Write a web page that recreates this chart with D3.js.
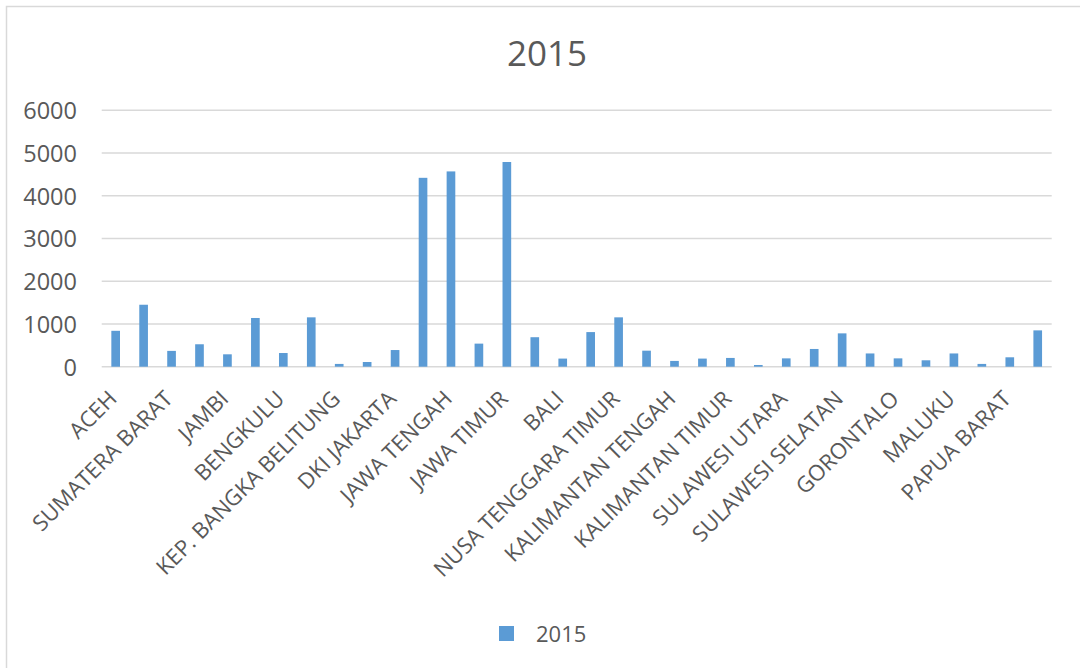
<!DOCTYPE html>
<html><head><meta charset="utf-8">
<script src="https://cdn.jsdelivr.net/npm/d3@7"></script>
<style>
html,body{margin:0;padding:0;background:#fff;}
svg{display:block;font-family:"Open Sans","Noto Sans",sans-serif;}
</style></head>
<body><svg id="chart" width="1080" height="668"></svg>
<script>
const categories = ["ACEH","SUMATERA UTARA","SUMATERA BARAT","RIAU","JAMBI","SUMATERA SELATAN","BENGKULU","LAMPUNG","KEP. BANGKA BELITUNG","KEP. RIAU","DKI JAKARTA","JAWA BARAT","JAWA TENGAH","DI YOGYAKARTA","JAWA TIMUR","BANTEN","BALI","NUSA TENGGARA BARAT","NUSA TENGGARA TIMUR","KALIMANTAN BARAT","KALIMANTAN TENGAH","KALIMANTAN SELATAN","KALIMANTAN TIMUR","KALIMANTAN UTARA","SULAWESI UTARA","SULAWESI TENGAH","SULAWESI SELATAN","SULAWESI TENGGARA","GORONTALO","SULAWESI BARAT","MALUKU","MALUKU UTARA","PAPUA BARAT","PAPUA"];
const values2015 = [840,1450,370,525,290,1140,320,1155,65,110,390,4420,4570,540,4790,690,190,810,1155,375,135,190,205,40,195,415,780,310,195,150,310,65,220,850];
const shownLabels = ["ACEH","SUMATERA BARAT","JAMBI","BENGKULU","KEP. BANGKA BELITUNG","DKI JAKARTA","JAWA TENGAH","JAWA TIMUR","BALI","NUSA TENGGARA TIMUR","KALIMANTAN TENGAH","KALIMANTAN TIMUR","SULAWESI UTARA","SULAWESI SELATAN","GORONTALO","MALUKU","PAPUA BARAT"];
const yTicks = [0,1000,2000,3000,4000,5000,6000];
const seriesName = "2015";
const titleText = "2015";

const svg = d3.select("#chart");
const textColor = "#595959", gridColor = "#d9d9d9", barColor = "#5b9bd5";

svg.append("rect").attr("x",6.5).attr("y",6.5).attr("width",1200).attr("height",800)
  .attr("fill","#fff").attr("stroke",gridColor).attr("stroke-width",1.5);

const x = d3.scaleBand().domain(categories).range([101.7,1051.7]).paddingInner(0.69).paddingOuter(0.345);
const y = d3.scaleLinear().domain([0,6000]).range([366.7,110.3]);

const grid = svg.append("g");
grid.selectAll("line").data(yTicks).join("line")
  .attr("x1",101.7).attr("x2",1051.7)
  .attr("y1",d=>y(d)).attr("y2",d=>y(d))
  .attr("stroke",gridColor).attr("stroke-width",1.5);

const yAxis = d3.axisLeft(y).tickValues(yTicks).tickSize(0).tickPadding(0).tickFormat(d3.format("d"));
const gy = svg.append("g").attr("transform","translate(77,0)").call(yAxis);
gy.select(".domain").remove();
gy.selectAll("text").attr("fill",textColor).attr("font-size",23.5).attr("dy","0.36em")
  .attr("font-family","'Open Sans',sans-serif");

svg.append("g").selectAll("rect").data(categories).join("rect")
  .attr("x",d=>x(d)).attr("width",x.bandwidth())
  .attr("y",(d,i)=>y(values2015[i])).attr("height",(d,i)=>y(0)-y(values2015[i]))
  .attr("fill",barColor);

const xAxis = d3.axisBottom(x).tickValues(shownLabels).tickSize(0).tickPadding(0);
const gx = svg.append("g").attr("transform",`translate(0,${y(0)})`).call(xAxis);
gx.select(".domain").remove();
gx.selectAll(".tick text")
  .attr("fill",textColor).attr("font-size",22).attr("font-family","'Open Sans',sans-serif")
  .attr("text-anchor","end").attr("x",0).attr("y",0).attr("dy","0.35em")
  .attr("transform","translate(-3,28) rotate(-45)");

svg.append("text").attr("x",547).attr("y",66).attr("text-anchor","middle")
  .attr("fill",textColor).attr("font-size",35).text(titleText);

const lg = svg.append("g").attr("transform","translate(499,626)");
lg.append("rect").attr("width",15).attr("height",15).attr("fill",barColor);
lg.append("text").attr("x",37).attr("y",15.5).attr("fill",textColor).attr("font-size",22).text(seriesName);
</script></body></html>
